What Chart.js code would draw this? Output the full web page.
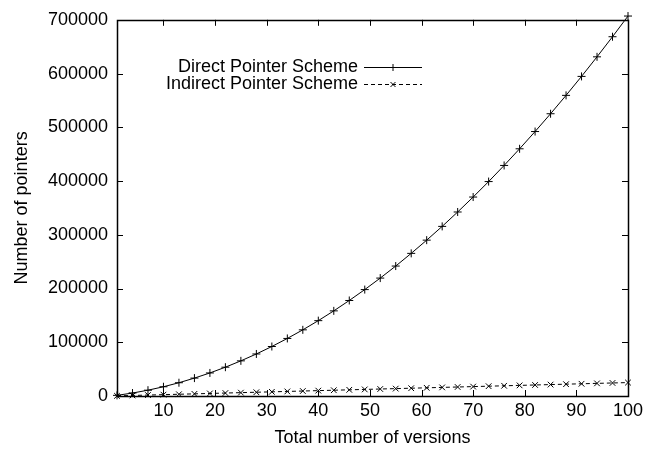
<!DOCTYPE html>
<html>
<head>
<meta charset="utf-8">
<script src="https://cdn.jsdelivr.net/npm/chart.js@4"></script>
<style>
  html, body { margin: 0; padding: 0; background: #fff; }
  #wrap { width: 657px; height: 453px; }
</style>
</head>
<body>
<div id="wrap"><canvas id="chart" width="657" height="453"></canvas></div>
<script>
// versions on the x axis (one marker every 3 versions)
const versions = [1, 4, 7, 10, 13, 16, 19, 22, 25, 28, 31, 34, 37, 40, 43, 46, 49,
                  52, 55, 58, 61, 64, 67, 70, 73, 76, 79, 82, 85, 88, 91, 94, 97, 100];

// number of pointers
const directPointers = [1200, 5500, 10800, 17200, 24700, 33300, 42900, 53600, 65400, 78200,
                        92100, 107100, 123100, 140200, 158400, 177700, 198000, 219400, 241800,
                        265400, 290000, 315600, 342400, 370200, 399000, 429000, 460000, 492100,
                        525200, 559400, 594700, 631100, 668500, 707000];
const indirectPointers = [250, 1000, 1750, 2500, 3250, 4000, 4750, 5500, 6250, 7000,
                          7750, 8500, 9250, 10000, 10750, 11500, 12250, 13000, 13750,
                          14500, 15250, 16000, 16750, 17500, 18250, 19000, 19750, 20500,
                          21250, 22000, 22750, 23500, 24250, 25000];

const xTicks = [10, 20, 30, 40, 50, 60, 70, 80, 90, 100];
const yTicks = [0, 100000, 200000, 300000, 400000, 500000, 600000, 700000];

const FONT = '"Liberation Sans", Arial, sans-serif';
const SIZE = 18;

// frame + inward ticks, gnuplot style
const framePlugin = {
    id: 'frame',
    afterDatasetsDraw(chart) {
        const { ctx, chartArea: a, scales } = chart;
        ctx.save();
        ctx.strokeStyle = '#000';
        ctx.lineWidth = 1;
        ctx.beginPath();
        xTicks.forEach(v => {
            const px = Math.round(scales.x.getPixelForValue(v)) + 0.5;
            ctx.moveTo(px, a.bottom); ctx.lineTo(px, a.bottom - 6);
            ctx.moveTo(px, a.top); ctx.lineTo(px, a.top + 6);
        });
        yTicks.forEach(v => {
            const py = Math.round(scales.y.getPixelForValue(v)) + 0.5;
            ctx.moveTo(a.left, py); ctx.lineTo(a.left + 6, py);
            ctx.moveTo(a.right, py); ctx.lineTo(a.right - 6, py);
        });
        ctx.stroke();
        ctx.lineWidth = 1.5;
        ctx.strokeRect(Math.round(a.left) + 0.5, Math.round(a.top) + 0.5,
                       Math.round(a.right - a.left), Math.round(a.bottom - a.top));
        ctx.restore();
    }
};

// legend inside the plot, text right-aligned with a line sample
const keyPlugin = {
    id: 'key',
    afterDatasetsDraw(chart) {
        const { ctx } = chart;
        const rows = [67, 84];
        ctx.save();
        ctx.font = SIZE + 'px ' + FONT;
        ctx.fillStyle = '#000';
        ctx.textAlign = 'right';
        ctx.textBaseline = 'middle';
        chart.data.datasets.forEach((ds, i) => {
            const y = rows[i];
            ctx.fillText(ds.label, 358, y);
            ctx.strokeStyle = '#000';
            ctx.lineWidth = 1;
            ctx.setLineDash(ds.borderDash || []);
            ctx.beginPath();
            ctx.moveTo(364, y + 0.5);
            ctx.lineTo(422, y + 0.5);
            ctx.stroke();
            ctx.setLineDash([]);
            Chart.helpers.drawPoint(ctx, {
                pointStyle: ds.pointStyle, radius: 3.5, borderWidth: 1
            }, 393, y + 0.5);
        });
        ctx.restore();
    }
};

new Chart(document.getElementById('chart'), {
    type: 'line',
    data: {
        datasets: [
            {
                label: 'Direct Pointer Scheme',
                data: versions.map((v, i) => ({ x: v, y: directPointers[i] })),
                borderColor: '#000',
                backgroundColor: '#000',
                borderWidth: 1,
                pointStyle: 'cross',
                pointRadius: 4,
                pointBorderWidth: 1,
                tension: 0,
                clip: false
            },
            {
                label: 'Indirect Pointer Scheme',
                data: versions.map((v, i) => ({ x: v, y: indirectPointers[i] })),
                borderColor: '#000',
                backgroundColor: '#000',
                borderWidth: 1,
                borderDash: [4, 3],
                pointStyle: 'crossRot',
                pointRadius: 4,
                pointBorderWidth: 1,
                tension: 0,
                clip: false
            }
        ]
    },
    options: {
        responsive: false,
        animation: false,
        layout: { padding: { left: 0, top: 13, right: 29, bottom: 0 } },
        plugins: {
            legend: { display: false },
            tooltip: { enabled: false }
        },
        scales: {
            x: {
                type: 'linear',
                min: 1,
                max: 100,
                afterBuildTicks: s => { s.ticks = xTicks.map(v => ({ value: v })); },
                afterFit: s => { s.height = 57; },
                grid: { display: false, drawTicks: false },
                border: { display: false },
                ticks: { color: '#000', font: { family: FONT, size: SIZE }, padding: 4, maxRotation: 0,
                         callback: v => String(v) },
                title: {
                    display: true,
                    text: 'Total number of versions',
                    color: '#000',
                    font: { family: FONT, size: SIZE },
                    padding: { top: 0, bottom: 4 }
                }
            },
            y: {
                min: 0,
                max: 700000,
                afterBuildTicks: s => { s.ticks = yTicks.map(v => ({ value: v })); },
                afterFit: s => { s.width = 117; },
                grid: { display: false, drawTicks: false },
                border: { display: false },
                ticks: { color: '#000', font: { family: FONT, size: SIZE }, padding: 9,
                         callback: v => String(v) },
                title: {
                    display: true,
                    text: 'Number of pointers',
                    color: '#000',
                    font: { family: FONT, size: SIZE },
                    padding: { top: 11, bottom: 0 }
                }
            }
        }
    },
    plugins: [framePlugin, keyPlugin]
});
</script>
</body>
</html>
